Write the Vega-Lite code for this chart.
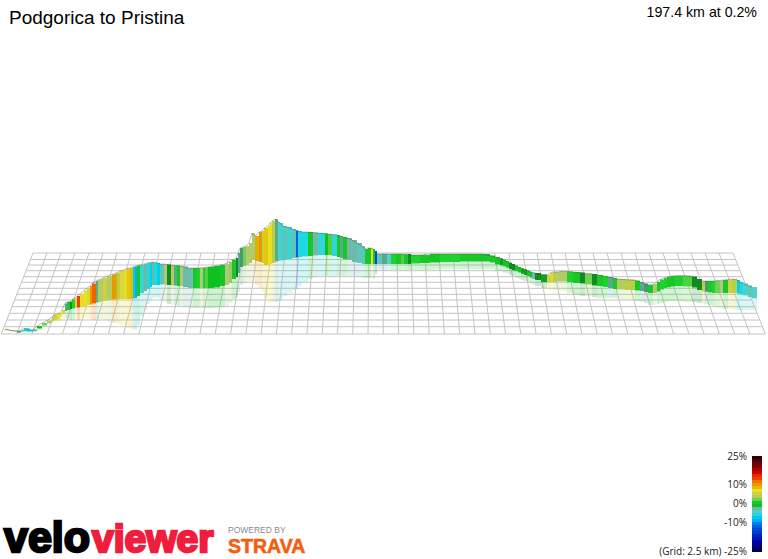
{"$schema":"https://vega.github.io/schema/vega-lite/v6.json","width":768,"height":559,"padding":0,"autosize":"none","background":"white","config":{"view":{"stroke":null}},
"datasets":{
"grid":[
{"x":33,"x2":1.3,"y":253,"y2":334},{"x":47,"x2":16.6,"y":253,"y2":334},{"x":61,"x2":31.9,"y":253,"y2":334},{"x":75,"x2":47.1,"y":253,"y2":334},{"x":89,"x2":62.4,"y":253,"y2":334},{"x":103,"x2":77.7,"y":253,"y2":334},{"x":117,"x2":93,"y":253,"y2":334},{"x":131,"x2":108.3,"y":253,"y2":334},{"x":145,"x2":123.5,"y":253,"y2":334},{"x":159,"x2":138.8,"y":253,"y2":334},{"x":173,"x2":154.1,"y":253,"y2":334},{"x":187,"x2":169.4,"y":253,"y2":334},{"x":201,"x2":184.7,"y":253,"y2":334},{"x":215,"x2":199.9,"y":253,"y2":334},{"x":229,"x2":215.2,"y":253,"y2":334},{"x":243,"x2":230.5,"y":253,"y2":334},{"x":257,"x2":245.8,"y":253,"y2":334},{"x":271,"x2":261.1,"y":253,"y2":334},{"x":285,"x2":276.3,"y":253,"y2":334},{"x":299,"x2":291.6,"y":253,"y2":334},{"x":313,"x2":306.9,"y":253,"y2":334},{"x":327,"x2":322.2,"y":253,"y2":334},{"x":341,"x2":337.5,"y":253,"y2":334},{"x":355,"x2":352.7,"y":253,"y2":334},{"x":369,"x2":368,"y":253,"y2":334},{"x":383,"x2":383.3,"y":253,"y2":334},{"x":397,"x2":398.6,"y":253,"y2":334},{"x":411,"x2":413.9,"y":253,"y2":334},{"x":425,"x2":429.1,"y":253,"y2":334},{"x":439,"x2":444.4,"y":253,"y2":334},{"x":453,"x2":459.7,"y":253,"y2":334},{"x":467,"x2":475,"y":253,"y2":334},{"x":481,"x2":490.3,"y":253,"y2":334},{"x":495,"x2":505.5,"y":253,"y2":334},{"x":509,"x2":520.8,"y":253,"y2":334},{"x":523,"x2":536.1,"y":253,"y2":334},{"x":537,"x2":551.4,"y":253,"y2":334},{"x":551,"x2":566.7,"y":253,"y2":334},{"x":565,"x2":581.9,"y":253,"y2":334},{"x":579,"x2":597.2,"y":253,"y2":334},{"x":593,"x2":612.5,"y":253,"y2":334},{"x":607,"x2":627.8,"y":253,"y2":334},{"x":621,"x2":643.1,"y":253,"y2":334},{"x":635,"x2":658.3,"y":253,"y2":334},{"x":649,"x2":673.6,"y":253,"y2":334},{"x":663,"x2":688.9,"y":253,"y2":334},{"x":677,"x2":704.2,"y":253,"y2":334},{"x":691,"x2":719.5,"y":253,"y2":334},{"x":705,"x2":734.7,"y":253,"y2":334},{"x":719,"x2":750,"y":253,"y2":334},{"x":733,"x2":765.3,"y":253,"y2":334},
{"x":33,"x2":733,"y":253,"y2":253},{"x":30.4,"x2":735.6,"y":259.5,"y2":259.5},{"x":28.3,"x2":737.7,"y":265,"y2":265},{"x":26.1,"x2":739.9,"y":270.7,"y2":270.7},{"x":23.7,"x2":742.3,"y":276.7,"y2":276.7},{"x":21.5,"x2":744.5,"y":282.3,"y2":282.3},{"x":19.2,"x2":746.8,"y":288.3,"y2":288.3},{"x":16.8,"x2":749.2,"y":294.3,"y2":294.3},{"x":14.6,"x2":751.4,"y":300,"y2":300},{"x":12,"x2":754,"y":306.7,"y2":306.7},{"x":9.4,"x2":756.6,"y":313.3,"y2":313.3},{"x":6.8,"x2":759.2,"y":320,"y2":320},{"x":4.2,"x2":761.8,"y":326.7,"y2":326.7},{"x":1.3,"x2":765.3,"y":334,"y2":334}],
"ribbon":[
{"x":5,"x2":9,"top":329,"bottom":330,"floor":331,"grad":3},{"x":9,"x2":13,"top":330,"bottom":331,"floor":332,"grad":3},{"x":13,"x2":17,"top":330.5,"bottom":331.5,"floor":332.5,"grad":3},{"x":17,"x2":21,"top":331,"bottom":332.5,"floor":333,"grad":-1},{"x":21,"x2":24,"top":330,"bottom":331.5,"floor":333,"grad":-3},{"x":24,"x2":27,"top":328.5,"bottom":331,"floor":332.5,"grad":-7},{"x":27,"x2":30,"top":328.5,"bottom":331.5,"floor":333,"grad":-7},{"x":30,"x2":33,"top":330,"bottom":331.5,"floor":332.5,"grad":-8},{"x":33,"x2":37,"top":329.5,"bottom":331,"floor":332,"grad":-1.5},{"x":37,"x2":42,"top":326,"bottom":328.5,"floor":330,"grad":0},{"x":42,"x2":47,"top":323,"bottom":325.5,"floor":327,"grad":2},{"x":47,"x2":52,"top":320.5,"bottom":323,"floor":325,"grad":3},{"x":52,"x2":54,"top":317,"bottom":321,"floor":323,"grad":4},{"x":54,"x2":57,"top":315,"bottom":320,"floor":322,"grad":5},{"x":57,"x2":60,"top":314,"bottom":319.5,"floor":322,"grad":7},{"x":60,"x2":62,"top":313,"bottom":316.5,"floor":320,"grad":7},{"x":62,"x2":65,"top":310,"bottom":314,"floor":319,"grad":6},{"x":65,"x2":67,"top":303.5,"bottom":311,"floor":318,"grad":-1.5},{"x":67,"x2":70,"top":302,"bottom":310,"floor":320,"grad":0.5},{"x":70,"x2":72,"top":301.5,"bottom":309,"floor":320,"grad":-0.5},{"x":72,"x2":75,"top":299.5,"bottom":308.5,"floor":320,"grad":1},{"x":75,"x2":77,"top":298,"bottom":308,"floor":319,"grad":6},{"x":77,"x2":80,"top":296,"bottom":307.5,"floor":320,"grad":13},{"x":80,"x2":84,"top":294,"bottom":307,"floor":319,"grad":6.5},{"x":84,"x2":87,"top":290.5,"bottom":306,"floor":318,"grad":7},{"x":87,"x2":90,"top":288,"bottom":305,"floor":318,"grad":6},{"x":90,"x2":92,"top":286,"bottom":304.5,"floor":319,"grad":10},{"x":92,"x2":96,"top":283.5,"bottom":303.5,"floor":320,"grad":12},{"x":96,"x2":98,"top":281,"bottom":302.5,"floor":319,"grad":-1.5},{"x":98,"x2":101,"top":280,"bottom":302,"floor":319,"grad":3.5},{"x":101,"x2":103,"top":279,"bottom":301.5,"floor":319,"grad":3},{"x":103,"x2":107,"top":278,"bottom":301,"floor":320,"grad":5},{"x":107,"x2":112,"top":276,"bottom":300,"floor":322,"grad":3.5},{"x":112,"x2":115,"top":274.5,"bottom":299.5,"floor":323,"grad":10},{"x":115,"x2":117,"top":273.5,"bottom":299.5,"floor":323,"grad":9.5},{"x":117,"x2":120,"top":272.5,"bottom":299,"floor":324,"grad":4},{"x":120,"x2":124,"top":271,"bottom":299,"floor":325,"grad":6},{"x":124,"x2":127,"top":270,"bottom":299,"floor":327,"grad":6.5},{"x":127,"x2":130,"top":268.5,"bottom":299,"floor":328,"grad":8},{"x":130,"x2":133,"top":268,"bottom":299,"floor":329,"grad":8.5},{"x":133,"x2":135,"top":267,"bottom":298.5,"floor":330,"grad":-8},{"x":135,"x2":137,"top":266.5,"bottom":298,"floor":329,"grad":-9},{"x":137,"x2":140,"top":265.5,"bottom":296,"floor":325,"grad":0.5},{"x":140,"x2":144,"top":265,"bottom":293,"floor":316,"grad":-5},{"x":144,"x2":147,"top":264,"bottom":291,"floor":310,"grad":-2},{"x":147,"x2":150,"top":263,"bottom":289,"floor":304,"grad":-6},{"x":150,"x2":152,"top":262.5,"bottom":287,"floor":300,"grad":-7},{"x":152,"x2":154,"top":262,"bottom":285,"floor":298,"grad":-2},{"x":154,"x2":157,"top":262.5,"bottom":285,"floor":297,"grad":-6},{"x":157,"x2":160,"top":263,"bottom":285,"floor":298,"grad":-7},{"x":160,"x2":164,"top":264,"bottom":284.5,"floor":300,"grad":-3},{"x":164,"x2":167,"top":264,"bottom":284.5,"floor":302,"grad":3},{"x":167,"x2":171,"top":264.5,"bottom":285,"floor":304,"grad":-0.5},{"x":171,"x2":174,"top":265,"bottom":285.5,"floor":305,"grad":3.5},{"x":174,"x2":177,"top":265.5,"bottom":285.5,"floor":305,"grad":-1.5},{"x":177,"x2":180,"top":265.5,"bottom":286,"floor":306,"grad":0.5},{"x":180,"x2":183,"top":266,"bottom":286,"floor":306,"grad":3},{"x":183,"x2":188,"top":266.5,"bottom":287,"floor":307,"grad":-2},{"x":188,"x2":193,"top":268,"bottom":288,"floor":308,"grad":-2.5},{"x":193,"x2":197,"top":268,"bottom":288,"floor":308,"grad":0.5},{"x":197,"x2":200,"top":268,"bottom":288,"floor":308,"grad":1},{"x":200,"x2":203,"top":268,"bottom":288,"floor":308,"grad":3},{"x":203,"x2":205,"top":267.7,"bottom":288,"floor":308,"grad":1},{"x":205,"x2":208,"top":267.5,"bottom":288,"floor":308,"grad":1.5},{"x":208,"x2":214,"top":267,"bottom":288,"floor":308,"grad":0},{"x":214,"x2":220,"top":266,"bottom":287.5,"floor":307.5,"grad":0},{"x":220,"x2":225,"top":265,"bottom":286,"floor":307,"grad":0.3},{"x":225,"x2":229,"top":264,"bottom":285,"floor":306,"grad":3},{"x":229,"x2":232,"top":262,"bottom":283,"floor":303,"grad":2.5},{"x":232,"x2":236,"top":260,"bottom":279,"floor":299,"grad":0.5},{"x":236,"x2":238,"top":258,"bottom":277,"floor":297,"grad":-0.5},{"x":238,"x2":240,"top":253,"bottom":273,"floor":292,"grad":-1.5},{"x":240,"x2":243,"top":248,"bottom":267,"floor":285,"grad":-1},{"x":243,"x2":246,"top":247,"bottom":266,"floor":283,"grad":2},{"x":246,"x2":249,"top":246,"bottom":265,"floor":281,"grad":3},{"x":249,"x2":252,"top":243,"bottom":263,"floor":281,"grad":3.5},{"x":252,"x2":255,"top":233,"bottom":260,"floor":282,"grad":3},{"x":255,"x2":259,"top":236,"bottom":261,"floor":285,"grad":9},{"x":259,"x2":262,"top":232,"bottom":262,"floor":288,"grad":10},{"x":262,"x2":264,"top":231,"bottom":263,"floor":292,"grad":4.5},{"x":264,"x2":268,"top":228,"bottom":265,"floor":298,"grad":8},{"x":268,"x2":270,"top":226,"bottom":265,"floor":303,"grad":7},{"x":270,"x2":272,"top":223,"bottom":264,"floor":303,"grad":7},{"x":272,"x2":275,"top":221,"bottom":263,"floor":302,"grad":4},{"x":275,"x2":278,"top":219,"bottom":261.5,"floor":302,"grad":-1.5},{"x":278,"x2":280,"top":222,"bottom":261,"floor":301,"grad":-4},{"x":280,"x2":283,"top":223,"bottom":260.5,"floor":300,"grad":-5},{"x":283,"x2":287,"top":226,"bottom":260,"floor":296,"grad":-3},{"x":287,"x2":292,"top":227,"bottom":259,"floor":293,"grad":-5},{"x":292,"x2":296,"top":229,"bottom":258,"floor":290,"grad":-3},{"x":296,"x2":298,"top":230.5,"bottom":257.5,"floor":289,"grad":-12},{"x":298,"x2":302,"top":231,"bottom":257,"floor":286,"grad":-6},{"x":302,"x2":308,"top":232,"bottom":256.5,"floor":282,"grad":-6},{"x":308,"x2":313,"top":232,"bottom":256,"floor":279,"grad":0.5},{"x":313,"x2":318,"top":232.5,"bottom":255.5,"floor":277,"grad":-2},{"x":318,"x2":325,"top":233,"bottom":255,"floor":276,"grad":-5.5},{"x":325,"x2":328,"top":233.5,"bottom":255,"floor":276,"grad":0},{"x":328,"x2":332,"top":234,"bottom":255,"floor":276,"grad":1.5},{"x":332,"x2":337,"top":234.5,"bottom":256,"floor":276,"grad":-5.5},{"x":337,"x2":340,"top":235,"bottom":257,"floor":276,"grad":0.5},{"x":340,"x2":343,"top":236,"bottom":258,"floor":276,"grad":-1.5},{"x":343,"x2":347,"top":237,"bottom":259,"floor":276,"grad":0.5},{"x":347,"x2":352,"top":238,"bottom":260,"floor":276,"grad":-2},{"x":352,"x2":357,"top":240,"bottom":262,"floor":276,"grad":-2},{"x":357,"x2":362,"top":243,"bottom":263,"floor":277,"grad":-3},{"x":362,"x2":365,"top":246,"bottom":264,"floor":278,"grad":-3},{"x":365,"x2":368,"top":249,"bottom":264,"floor":278,"grad":0.5},{"x":368,"x2":371,"top":248,"bottom":264,"floor":278,"grad":0.5},{"x":371,"x2":373,"top":248,"bottom":264,"floor":279,"grad":7},{"x":373,"x2":375,"top":249,"bottom":264,"floor":279,"grad":0.5},{"x":375,"x2":377,"top":251,"bottom":264,"floor":274,"grad":-14},{"x":377,"x2":382,"top":254,"bottom":264,"floor":270,"grad":-3},{"x":382,"x2":387,"top":254,"bottom":264,"floor":270,"grad":-1.5},{"x":387,"x2":391,"top":254,"bottom":264,"floor":270,"grad":-4},{"x":391,"x2":396,"top":254,"bottom":264,"floor":270,"grad":1},{"x":396,"x2":401,"top":254,"bottom":264,"floor":270,"grad":0.5},{"x":401,"x2":404,"top":254,"bottom":264,"floor":270,"grad":1.5},{"x":404,"x2":408,"top":254.3,"bottom":264,"floor":270,"grad":0.5},{"x":408,"x2":411,"top":254,"bottom":264,"floor":270,"grad":-0.5},{"x":411,"x2":420,"top":255,"bottom":263.5,"floor":270,"grad":1},{"x":420,"x2":430,"top":255,"bottom":263,"floor":270,"grad":0.5},{"x":430,"x2":440,"top":254,"bottom":262.5,"floor":269.5,"grad":0.3},{"x":440,"x2":450,"top":254,"bottom":262,"floor":269,"grad":1},{"x":450,"x2":460,"top":254,"bottom":262,"floor":269,"grad":1},{"x":460,"x2":470,"top":254,"bottom":261.5,"floor":269,"grad":0.5},{"x":470,"x2":480,"top":254,"bottom":261.5,"floor":269,"grad":0.5},{"x":480,"x2":490,"top":254,"bottom":261.5,"floor":269,"grad":0.4},{"x":490,"x2":495,"top":255.5,"bottom":262.5,"floor":269,"grad":0.5},{"x":495,"x2":500,"top":257,"bottom":264.5,"floor":271,"grad":0.3},{"x":500,"x2":503,"top":258.3,"bottom":265.3,"floor":271,"grad":-0.3},{"x":503,"x2":506,"top":259.7,"bottom":266.5,"floor":272.5,"grad":0.3},{"x":506,"x2":509,"top":261,"bottom":267.7,"floor":273.5,"grad":0.3},{"x":509,"x2":512,"top":262.7,"bottom":269,"floor":275,"grad":-0.5},{"x":512,"x2":515,"top":264,"bottom":270.3,"floor":276,"grad":-0.5},{"x":515,"x2":518,"top":265.5,"bottom":271.2,"floor":277.5,"grad":0.3},{"x":518,"x2":521,"top":267,"bottom":272.5,"floor":279,"grad":0.3},{"x":521,"x2":524,"top":268.3,"bottom":273.8,"floor":280,"grad":-0.3},{"x":524,"x2":527,"top":269.3,"bottom":275,"floor":281,"grad":-0.3},{"x":527,"x2":530,"top":270.5,"bottom":276.2,"floor":282,"grad":0.3},{"x":530,"x2":532,"top":271.7,"bottom":277.5,"floor":283.5,"grad":0.3},{"x":532,"x2":535,"top":272.5,"bottom":279,"floor":285,"grad":-2},{"x":535,"x2":541,"top":273,"bottom":280,"floor":286,"grad":-0.5},{"x":541,"x2":547,"top":274.5,"bottom":282,"floor":288,"grad":-0.3},{"x":547,"x2":550,"top":275,"bottom":282.5,"floor":289,"grad":5},{"x":550,"x2":553,"top":273,"bottom":282,"floor":290,"grad":6},{"x":553,"x2":557,"top":272,"bottom":282,"floor":290,"grad":4},{"x":557,"x2":560,"top":272,"bottom":281.5,"floor":290,"grad":3},{"x":560,"x2":567,"top":271.5,"bottom":281.5,"floor":291,"grad":3.5},{"x":567,"x2":573,"top":271.5,"bottom":282,"floor":293,"grad":1},{"x":573,"x2":580,"top":272,"bottom":283,"floor":295,"grad":0.5},{"x":580,"x2":585,"top":272.5,"bottom":283.5,"floor":296,"grad":-0.5},{"x":585,"x2":592,"top":273.5,"bottom":284.5,"floor":296,"grad":2},{"x":592,"x2":597,"top":274,"bottom":285.5,"floor":297,"grad":-0.5},{"x":597,"x2":603,"top":275,"bottom":286,"floor":298,"grad":0.5},{"x":603,"x2":608,"top":276,"bottom":287,"floor":298,"grad":1},{"x":608,"x2":613,"top":277,"bottom":288,"floor":298,"grad":-1.5},{"x":613,"x2":617,"top":278,"bottom":289,"floor":298,"grad":0.5},{"x":617,"x2":625,"top":279,"bottom":289.5,"floor":299,"grad":3.5},{"x":625,"x2":635,"top":279.5,"bottom":290,"floor":300,"grad":4},{"x":635,"x2":640,"top":280.5,"bottom":290.5,"floor":301,"grad":0.5},{"x":640,"x2":644,"top":282,"bottom":291,"floor":302,"grad":-1.5},{"x":644,"x2":648,"top":283.5,"bottom":292,"floor":303,"grad":-1},{"x":648,"x2":653,"top":285,"bottom":293,"floor":305,"grad":0.5},{"x":653,"x2":657,"top":284,"bottom":293,"floor":305,"grad":3},{"x":657,"x2":660,"top":282,"bottom":291.5,"floor":304,"grad":0.5},{"x":660,"x2":664,"top":279.5,"bottom":289.5,"floor":303,"grad":1},{"x":664,"x2":667,"top":278,"bottom":288,"floor":302,"grad":1},{"x":667,"x2":671,"top":277,"bottom":287.3,"floor":301,"grad":0.5},{"x":671,"x2":675,"top":276,"bottom":286.5,"floor":301,"grad":0.5},{"x":675,"x2":683,"top":275.7,"bottom":286,"floor":301,"grad":1},{"x":683,"x2":692,"top":275.7,"bottom":286.5,"floor":302,"grad":1.5},{"x":692,"x2":697,"top":276.5,"bottom":287.5,"floor":302,"grad":-0.5},{"x":697,"x2":702,"top":279,"bottom":290,"floor":303,"grad":-0.5},{"x":702,"x2":705,"top":281,"bottom":291.5,"floor":304,"grad":4},{"x":705,"x2":708,"top":281,"bottom":291.8,"floor":304,"grad":-1},{"x":708,"x2":712,"top":281,"bottom":292.5,"floor":305,"grad":0.5},{"x":712,"x2":715,"top":281,"bottom":293,"floor":306,"grad":1},{"x":715,"x2":720,"top":280.7,"bottom":293.3,"floor":307,"grad":2},{"x":720,"x2":723,"top":280.5,"bottom":293.3,"floor":308,"grad":3},{"x":723,"x2":728,"top":280,"bottom":293,"floor":309,"grad":0.5},{"x":728,"x2":732,"top":279.5,"bottom":293,"floor":309,"grad":5},{"x":732,"x2":737,"top":279,"bottom":293,"floor":310,"grad":4},{"x":737,"x2":740,"top":280,"bottom":293.5,"floor":310,"grad":-7},{"x":740,"x2":743,"top":282,"bottom":294.5,"floor":310,"grad":-6},{"x":743,"x2":748,"top":283.5,"bottom":295.5,"floor":310,"grad":-4},{"x":748,"x2":752,"top":285.5,"bottom":297,"floor":310,"grad":-3.5},{"x":752,"x2":757,"top":287,"bottom":298.3,"floor":310,"grad":-4}],
"scalebar":[
{"x":752,"x2":762,"y":456,"y2":459,"grad":25},{"x":752,"x2":762,"y":459,"y2":462,"grad":23},{"x":752,"x2":762,"y":462,"y2":465,"grad":21},{"x":752,"x2":762,"y":465,"y2":468,"grad":20},{"x":752,"x2":762,"y":468,"y2":471,"grad":18},{"x":752,"x2":762,"y":471,"y2":474,"grad":16},{"x":752,"x2":762,"y":474,"y2":477,"grad":14.5},{"x":752,"x2":762,"y":477,"y2":480,"grad":13},{"x":752,"x2":762,"y":480,"y2":483,"grad":11.5},{"x":752,"x2":762,"y":483,"y2":486,"grad":10},{"x":752,"x2":762,"y":486,"y2":489,"grad":8.5},{"x":752,"x2":762,"y":489,"y2":492,"grad":7},{"x":752,"x2":762,"y":492,"y2":495,"grad":5},{"x":752,"x2":762,"y":495,"y2":498,"grad":3.5},{"x":752,"x2":762,"y":498,"y2":501,"grad":2},{"x":752,"x2":762,"y":501,"y2":504,"grad":0.5},{"x":752,"x2":762,"y":504,"y2":507,"grad":0},{"x":752,"x2":762,"y":507,"y2":510,"grad":-2},{"x":752,"x2":762,"y":510,"y2":513,"grad":-4},{"x":752,"x2":762,"y":513,"y2":516,"grad":-6},{"x":752,"x2":762,"y":516,"y2":519,"grad":-8},{"x":752,"x2":762,"y":519,"y2":522,"grad":-9},{"x":752,"x2":762,"y":522,"y2":525,"grad":-11},{"x":752,"x2":762,"y":525,"y2":528,"grad":-12},{"x":752,"x2":762,"y":528,"y2":531,"grad":-14},{"x":752,"x2":762,"y":531,"y2":534,"grad":-15},{"x":752,"x2":762,"y":534,"y2":537,"grad":-17},{"x":752,"x2":762,"y":537,"y2":540,"grad":-18},{"x":752,"x2":762,"y":540,"y2":543,"grad":-19},{"x":752,"x2":762,"y":543,"y2":546,"grad":-21},{"x":752,"x2":762,"y":546,"y2":549,"grad":-23},{"x":752,"x2":762,"y":549,"y2":552,"grad":-25}]
},
"layer":[
{"data":{"name":"grid"},"mark":{"type":"rule","stroke":"#c4c4c4","strokeWidth":1},"encoding":{"x":{"field":"x","type":"quantitative","scale":{"domain":[0,768],"nice":false,"zero":false},"axis":null},"y":{"field":"y","type":"quantitative","scale":{"domain":[559,0],"nice":false,"zero":false},"axis":null},"x2":{"field":"x2"},"y2":{"field":"y2"}}},
{"data":{"name":"ribbon"},"mark":{"type":"rect","opacity":0.2},"encoding":{"x":{"field":"x","type":"quantitative","scale":{"domain":[0,768],"nice":false,"zero":false},"axis":null},"x2":{"field":"x2"},"y":{"field":"bottom","type":"quantitative","scale":{"domain":[559,0],"nice":false,"zero":false},"axis":null},"y2":{"field":"floor"},"color":{"field":"grad","type":"quantitative","legend":null,"scale":{"domain":[-25,-19,-12,-8,-6,-4,-3,-2,-1,-0.5,0,1,2,3,4,5,7,9,11,13,16,20,25],"range":["#000050","#0000b0","#0060e0","#00c8f0","#20d8e0","#50d0c8","#60c4b8","#70b8a8","#4a9a70","#108c20","#10c020","#20d030","#70d050","#b0c878","#b8d048","#d0d040","#e8e020","#e0b000","#f08000","#f04000","#d80000","#800000","#300000"]}}}},
{"data":{"name":"ribbon"},"mark":{"type":"rect"},"encoding":{"x":{"field":"x","type":"quantitative","scale":{"domain":[0,768],"nice":false,"zero":false},"axis":null},"x2":{"field":"x2"},"y":{"field":"top","type":"quantitative","scale":{"domain":[559,0],"nice":false,"zero":false},"axis":null},"y2":{"field":"bottom"},"color":{"field":"grad","type":"quantitative","legend":null,"scale":{"domain":[-25,-19,-12,-8,-6,-4,-3,-2,-1,-0.5,0,1,2,3,4,5,7,9,11,13,16,20,25],"range":["#000050","#0000b0","#0060e0","#00c8f0","#20d8e0","#50d0c8","#60c4b8","#70b8a8","#4a9a70","#108c20","#10c020","#20d030","#70d050","#b0c878","#b8d048","#d0d040","#e8e020","#e0b000","#f08000","#f04000","#d80000","#800000","#300000"]}}}},
{"data":{"name":"ribbon"},"mark":{"type":"line","stroke":"#444444","strokeWidth":1,"opacity":0.35},"encoding":{"x":{"field":"x","type":"quantitative","scale":{"domain":[0,768],"nice":false,"zero":false},"axis":null},"y":{"field":"top","type":"quantitative","scale":{"domain":[559,0],"nice":false,"zero":false},"axis":null}}},
{"data":{"name":"scalebar"},"mark":{"type":"rect"},"encoding":{"x":{"field":"x","type":"quantitative","scale":{"domain":[0,768],"nice":false,"zero":false},"axis":null},"x2":{"field":"x2"},"y":{"field":"y","type":"quantitative","scale":{"domain":[559,0],"nice":false,"zero":false},"axis":null},"y2":{"field":"y2"},"color":{"field":"grad","type":"quantitative","legend":null,"scale":{"domain":[-25,-19,-12,-8,-6,-4,-3,-2,-1,-0.5,0,1,2,3,4,5,7,9,11,13,16,20,25],"range":["#000050","#0000b0","#0060e0","#00c8f0","#20d8e0","#50d0c8","#60c4b8","#70b8a8","#4a9a70","#108c20","#10c020","#20d030","#70d050","#b0c878","#b8d048","#d0d040","#e8e020","#e0b000","#f08000","#f04000","#d80000","#800000","#300000"]}}}},
{"data":{"values":[{"x":747,"y":456.5,"label":"25%"},{"x":747,"y":485,"label":"10%"},{"x":747,"y":504,"label":"0%"},{"x":747,"y":523,"label":"-10%"},{"x":747,"y":551.5,"label":"(Grid: 2.5 km) -25%"}]},"mark":{"type":"text","align":"right","baseline":"middle","font":"Open Sans","fontSize":10,"fill":"#222222"},"encoding":{"x":{"field":"x","type":"quantitative","scale":{"domain":[0,768],"nice":false,"zero":false},"axis":null},"y":{"field":"y","type":"quantitative","scale":{"domain":[559,0],"nice":false,"zero":false},"axis":null},"text":{"field":"label"}}},
{"data":{"values":[{"x":9,"y":17.5,"label":"Podgorica to Pristina"}]},"mark":{"type":"text","align":"left","baseline":"middle","font":"Liberation Sans","fontSize":19,"fill":"#000000"},"encoding":{"x":{"field":"x","type":"quantitative","scale":{"domain":[0,768],"nice":false,"zero":false},"axis":null},"y":{"field":"y","type":"quantitative","scale":{"domain":[559,0],"nice":false,"zero":false},"axis":null},"text":{"field":"label"}}},
{"data":{"values":[{"x":757,"y":12.5,"label":"197.4 km at 0.2%"}]},"mark":{"type":"text","align":"right","baseline":"middle","font":"Liberation Sans","fontSize":14.2,"fill":"#000000"},"encoding":{"x":{"field":"x","type":"quantitative","scale":{"domain":[0,768],"nice":false,"zero":false},"axis":null},"y":{"field":"y","type":"quantitative","scale":{"domain":[559,0],"nice":false,"zero":false},"axis":null},"text":{"field":"label"}}},
{"data":{"values":[{"x":4,"y":551.5,"label":"velo"}]},"mark":{"type":"text","align":"left","baseline":"alphabetic","font":"Liberation Sans","fontWeight":"bold","fontSize":43,"fill":"#000000","stroke":"#000000","strokeWidth":2.5},"encoding":{"x":{"field":"x","type":"quantitative","scale":{"domain":[0,768],"nice":false,"zero":false},"axis":null},"y":{"field":"y","type":"quantitative","scale":{"domain":[559,0],"nice":false,"zero":false},"axis":null},"text":{"field":"label"}}},
{"data":{"values":[{"x":92,"y":551.5,"label":"viewer"}]},"mark":{"type":"text","align":"left","baseline":"alphabetic","font":"Liberation Sans","fontWeight":"bold","fontSize":39,"fill":"#f01e3c","stroke":"#f01e3c","strokeWidth":2.5},"encoding":{"x":{"field":"x","type":"quantitative","scale":{"domain":[0,768],"nice":false,"zero":false},"axis":null},"y":{"field":"y","type":"quantitative","scale":{"domain":[559,0],"nice":false,"zero":false},"axis":null},"text":{"field":"label"}}},
{"data":{"values":[{"x":228,"y":530,"label":"POWERED BY"}]},"mark":{"type":"text","align":"left","baseline":"middle","font":"Liberation Sans","fontSize":8.5,"fill":"#8a8a8a"},"encoding":{"x":{"field":"x","type":"quantitative","scale":{"domain":[0,768],"nice":false,"zero":false},"axis":null},"y":{"field":"y","type":"quantitative","scale":{"domain":[559,0],"nice":false,"zero":false},"axis":null},"text":{"field":"label"}}},
{"data":{"values":[{"x":228,"y":552.5,"label":"STRAVA"}]},"mark":{"type":"text","align":"left","baseline":"alphabetic","font":"Liberation Sans","fontWeight":"bold","fontSize":19.5,"fill":"#f2600f","stroke":"#f2600f","strokeWidth":0.6},"encoding":{"x":{"field":"x","type":"quantitative","scale":{"domain":[0,768],"nice":false,"zero":false},"axis":null},"y":{"field":"y","type":"quantitative","scale":{"domain":[559,0],"nice":false,"zero":false},"axis":null},"text":{"field":"label"}}}
]}
